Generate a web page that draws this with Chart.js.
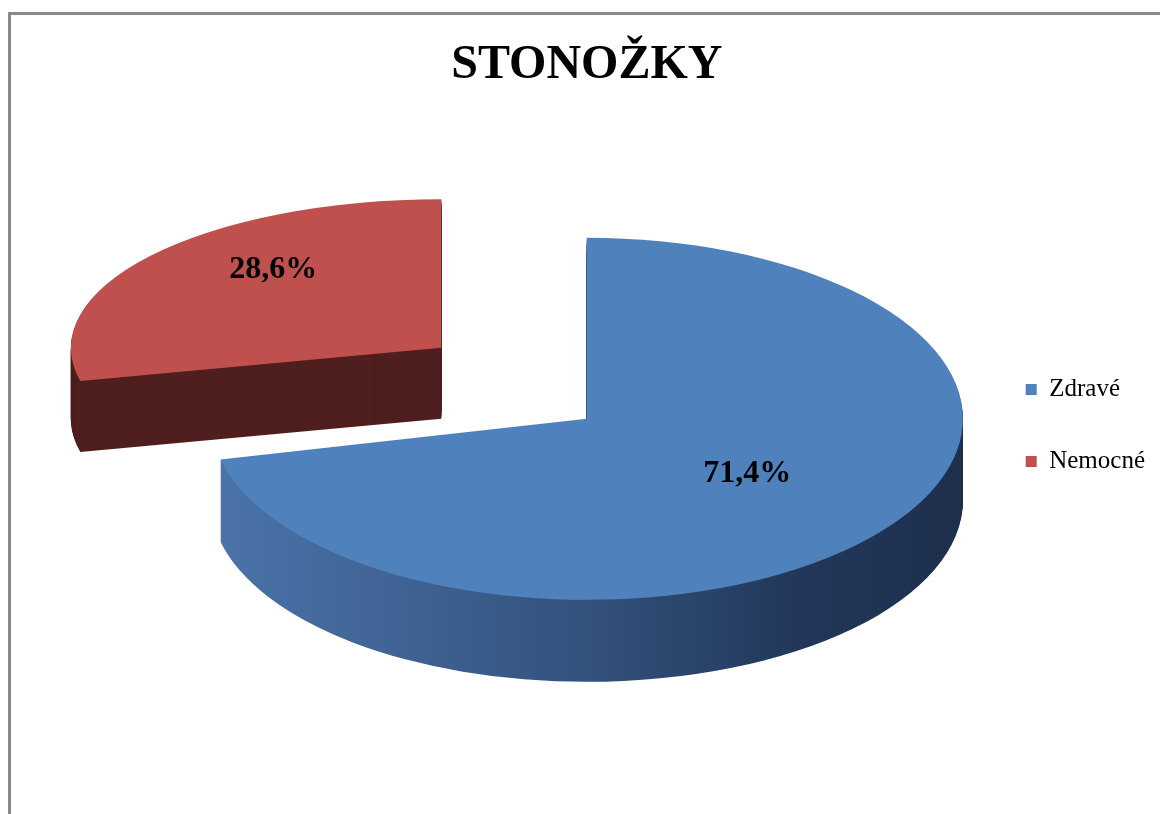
<!DOCTYPE html>
<html>
<head>
<meta charset="utf-8">
<script src="https://cdn.jsdelivr.net/npm/chart.js@4.4.1/dist/chart.umd.min.js"></script>
<style>
  html, body { margin: 0; padding: 0; background: #fff; overflow: hidden; }
  canvas { display: block; }
</style>
</head>
<body>
<canvas id="chart" width="1160" height="814"></canvas>
<script>
// ---- data ----
const chartTitle = 'STONOŽKY';
const categories = ['Zdravé', 'Nemocné'];
const shares = [71.4, 28.6];
const shareLabels = ['71,4%', '28,6%'];

// ---- styles ----
const sliceColors = ['#4f81bd', '#c0504d'];
const SERIF = '"Liberation Serif", "Times New Roman", Times, serif';

const framePlugin = {
  id: 'frame',
  beforeDraw(chart) {
    const c = chart.ctx;
    c.save();
    c.fillStyle = '#ffffff';
    c.fillRect(0, 0, chart.width, chart.height);
    c.fillStyle = '#8a8a8a';
    c.fillRect(8, 12, 3, chart.height - 12);
    c.fillRect(8, 12, chart.width - 8, 3);
    c.restore();
  }
};

// 3-D look: tilt the library's pie, extrude it and pull slices out
const pie3dPlugin = {
  id: 'pie3d',
  beforeDatasetsDraw(chart, args, opts) {
    const ctx = chart.ctx;
    const arcs = chart.getDatasetMeta(0).data;
    if (!arcs.length) return;
    const R = arcs[0].outerRadius, cx = arcs[0].x, cy = arcs[0].y;
    const items = arcs.map((arc, i) => {
      const mid = (arc.startAngle + arc.endAngle) / 2;
      const p = opts.slices[i];
      const rx = opts.radiusX * p.scaleX, ry = opts.radiusY * p.scaleY;
      return {
        arc, i, mid, rx, ry, depth: p.depth, label: p.label,
        ox: cx + Math.cos(mid) * p.explode[0] * opts.radiusX,
        oy: cy + Math.sin(mid) * p.explode[1] * opts.radiusY
      };
    }).sort((a, b) => Math.sin(a.mid) - Math.sin(b.mid));

    for (const it of items) {
      const arc = it.arc;
      let fill = opts.sideColors[it.i];
      if (Array.isArray(fill)) {
        const g = ctx.createLinearGradient(cx - opts.radiusX, 0, cx + opts.radiusX, 0);
        fill.forEach(s => g.addColorStop(s[0], s[1]));
        fill = g;
      }
      // side walls (extrusion)
      ctx.save();
      ctx.fillStyle = fill;
      for (let d = it.depth; d >= 1; d--) {
        ctx.beginPath();
        ctx.moveTo(it.ox, it.oy + d);
        ctx.ellipse(it.ox, it.oy + d, it.rx, it.ry, 0, arc.startAngle, arc.endAngle);
        ctx.closePath();
        ctx.fill();
      }
      ctx.restore();
      // top face drawn by the library's arc element, tilted
      ctx.save();
      ctx.translate(it.ox, it.oy);
      ctx.scale(it.rx / R, it.ry / R);
      ctx.translate(-cx, -cy);
      arc.draw(ctx);
      ctx.restore();
    }

    // value labels
    ctx.save();
    ctx.fillStyle = '#000';
    ctx.font = 'bold 32px ' + SERIF;
    ctx.textAlign = 'center';
    ctx.textBaseline = 'middle';
    for (const it of items) {
      ctx.fillText(shareLabels[it.i],
        it.ox + Math.cos(it.mid) * it.label[0] * it.rx,
        it.oy + Math.sin(it.mid) * it.label[1] * it.ry);
    }
    ctx.restore();
    return false;
  }
};

new Chart(document.getElementById('chart'), {
  type: 'pie',
  data: {
    labels: categories,
    datasets: [{
      data: shares,
      backgroundColor: sliceColors,
      borderWidth: 0
    }]
  },
  options: {
    responsive: false,
    animation: false,
    devicePixelRatio: 1,
    layout: { padding: { left: 195, right: 5, top: 0, bottom: 80 } },
    plugins: {
      title: {
        display: true,
        text: chartTitle,
        fullSize: false,
        color: '#000',
        font: { family: SERIF, size: 48, weight: 'bold' },
        padding: { top: 37, bottom: 9 }
      },
      legend: {
        position: 'right',
        fullSize: false,
        title: { display: true, text: ' ', padding: 0, font: { family: SERIF, size: 11 } },
        labels: {
          color: '#000',
          font: { family: SERIF, size: 25 },
          boxWidth: 11,
          boxHeight: 11,
          padding: 47
        }
      },
      tooltip: { enabled: false },
      pie3d: {
        radiusX: 376,
        radiusY: 181,
        slices: [
          { explode: [0, 0], scaleX: 1, scaleY: 1, depth: 82, label: [0.545, 0.49] },
          { explode: [0.495, 0.63], scaleX: 0.985, scaleY: 0.82, depth: 71, label: [0.58, 0.84] }
        ],
        sideColors: [
          [[0, '#4b74ab'], [0.5, '#33527c'], [0.78, '#22375a'], [1, '#1d2f4c']],
          '#4f1f1f'
        ]
      }
    }
  },
  plugins: [framePlugin, pie3dPlugin]
});
</script>
</body>
</html>
